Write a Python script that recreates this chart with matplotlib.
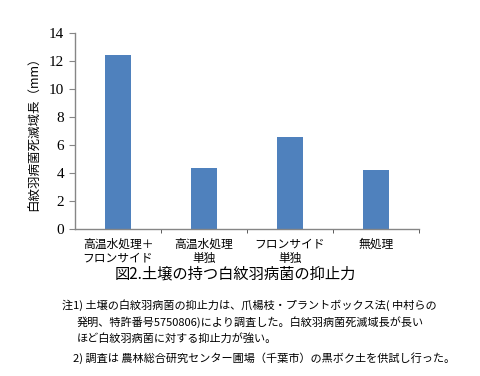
import matplotlib.pyplot as plt
from matplotlib.ticker import FixedLocator

plt.rcParams['font.family'] = ['Noto Sans CJK JP', 'DejaVu Sans']

categories = ['高温水処理＋\nフロンサイド', '高温水処理\n単独', 'フロンサイド\n単独', '無処理']
values = [12.45, 4.35, 6.55, 4.2]
y_ticks = [0, 2, 4, 6, 8, 10, 12, 14]

title = '図2.土壌の持つ白紋羽病菌の抑止力'
notes = [
    '注1) 土壌の白紋羽病菌の抑止力は、爪楊枝・プラントボックス法( 中村らの',
    '発明、特許番号5750806)により調査した。白紋羽病菌死滅域長が長い',
    'ほど白紋羽病菌に対する抑止力が強い。',
    '2) 調査は 農林総合研究センター圃場（千葉市）の黒ボク土を供試し行った。',
]

bar_color = '#4F81BD'
axis_color = '#868686'

fig = plt.figure(figsize=(4.8, 3.76), dpi=100)
ax = fig.add_axes([75 / 480, 1 - 229 / 376, 344 / 480, 195.7 / 376])

x = list(range(len(categories)))
ax.bar(x, values, width=0.30, color=bar_color)

ax.set_xlim(-0.5, 3.5)
ax.set_ylim(0, 14)
ax.set_yticks(y_ticks)
ax.set_yticklabels([str(v) for v in y_ticks], family='Liberation Serif', fontsize=11)
ax.set_xticks(x)
ax.set_xticklabels(categories, fontsize=8.5, linespacing=1.15)
ax.xaxis.set_minor_locator(FixedLocator([0.5, 1.5, 2.5, 3.5]))
ax.tick_params(axis='x', which='major', length=0, pad=6)
ax.tick_params(axis='x', which='minor', length=3, color='#404040', direction='out')
ax.tick_params(axis='y', length=4, color=axis_color, direction='out', pad=4)

for side in ['top', 'right']:
    ax.spines[side].set_visible(False)
for side in ['left', 'bottom']:
    ax.spines[side].set_color(axis_color)
    ax.spines[side].set_linewidth(1.0)

ax.set_ylabel('白紋羽病菌死滅域長（mm）', fontsize=9, labelpad=6)

fig.text(235 / 480, 1 - 274 / 376, title, fontsize=11, ha='center', va='center')
fig.text(62 / 480, 1 - 305 / 376, notes[0], fontsize=8, ha='left', va='center')
fig.text(77 / 480, 1 - 322 / 376, notes[1], fontsize=8, ha='left', va='center')
fig.text(77 / 480, 1 - 338 / 376, notes[2], fontsize=8, ha='left', va='center')
fig.text(73 / 480, 1 - 358 / 376, notes[3], fontsize=8, ha='left', va='center')

fig.savefig('out.png', dpi=100)
